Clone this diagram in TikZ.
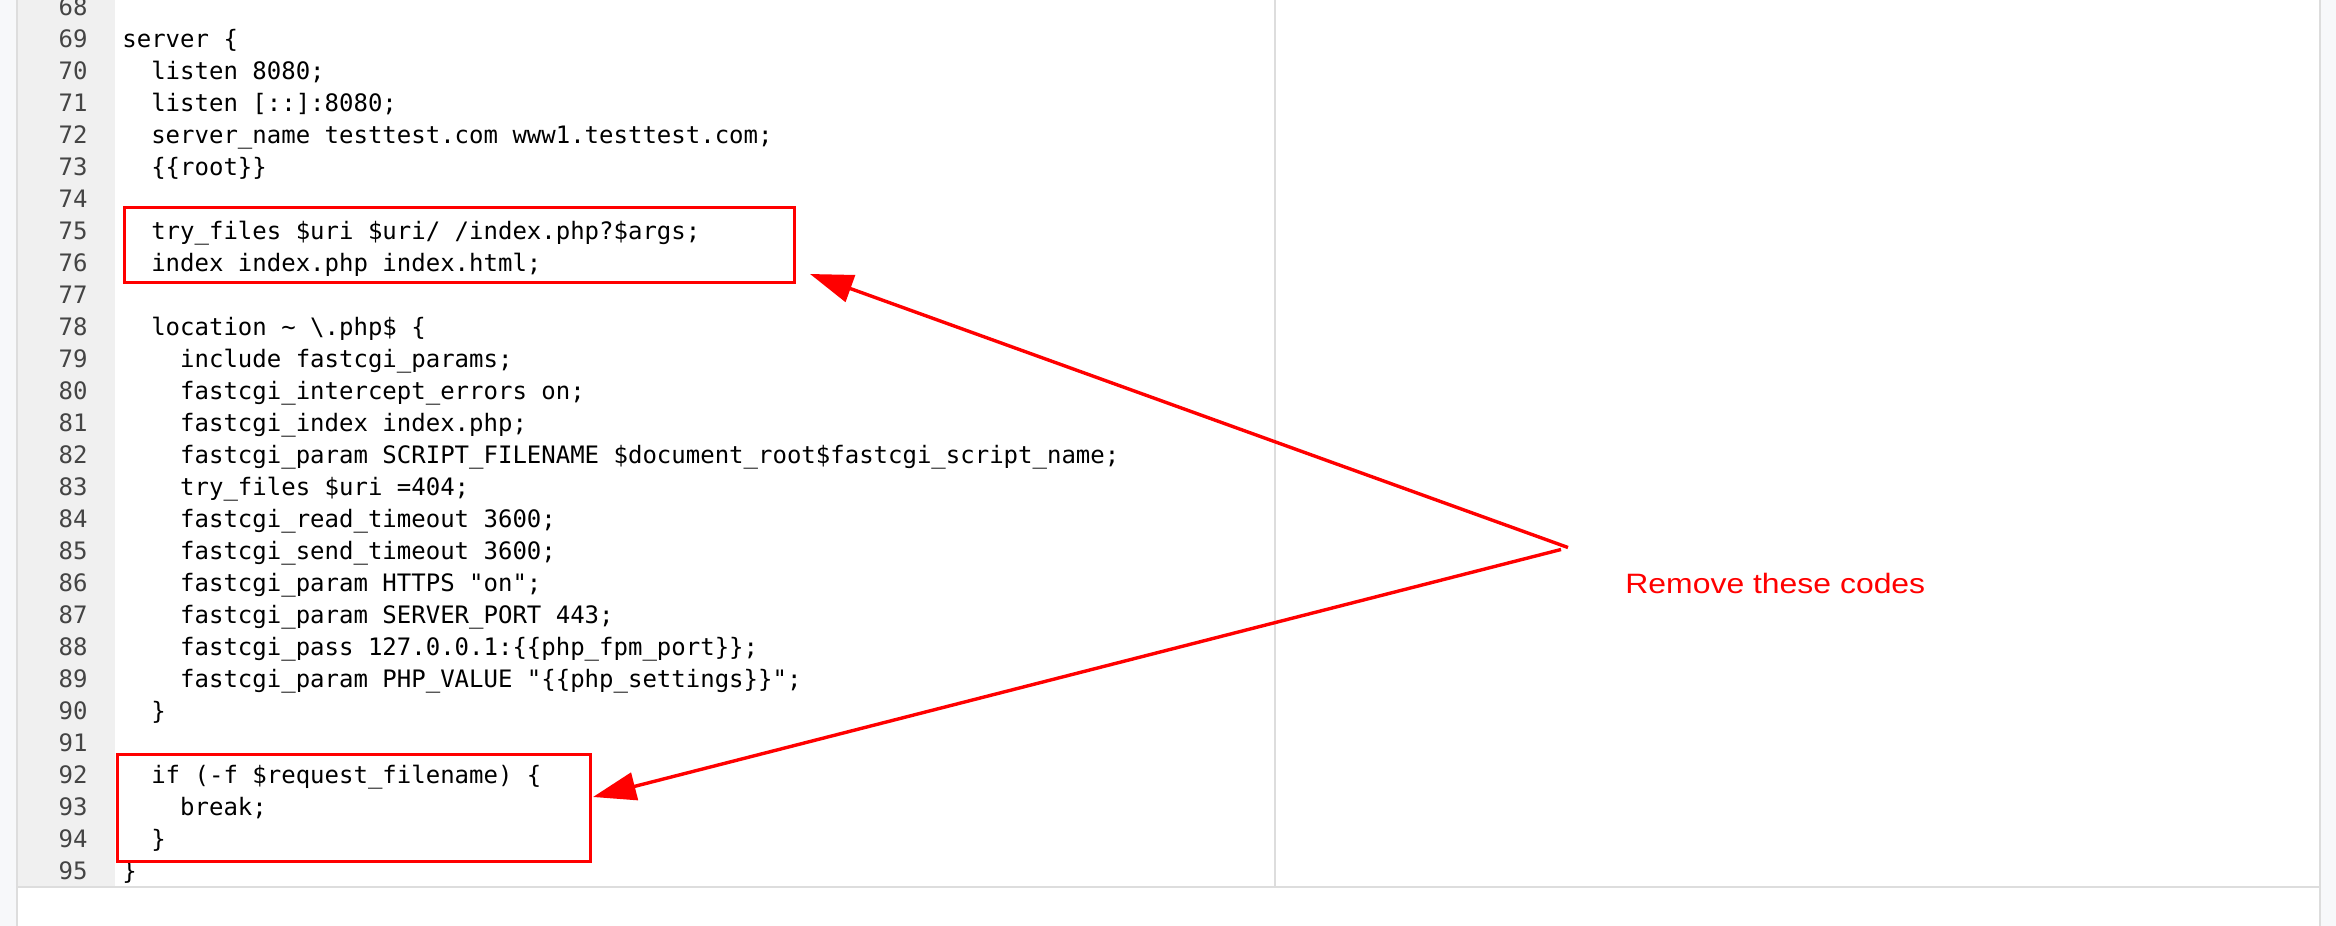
\documentclass[tikz,border=0pt]{standalone}
\usepackage{fontspec}
\setmonofont{DejaVu Sans Mono}
\newfontfamily\labelfont[FakeStretch=1.14]{Liberation Sans}
\usetikzlibrary{arrows.meta}
\definecolor{pagebg}{HTML}{F7F8FA}
\definecolor{gutterbg}{HTML}{F0F0F0}
\definecolor{rulecol}{HTML}{DDDDDD}
\definecolor{numcol}{HTML}{444444}
\definecolor{codecol}{HTML}{000000}
\definecolor{alertred}{HTML}{FF0000}
\tikzset{
  rulestyle/.style={draw=rulecol, line width=1pt},
  lnum/.style={anchor=base east, inner sep=0pt, text=numcol, font=\ttfamily\fontsize{12pt}{16pt}\selectfont},
  codeline/.style={anchor=base west, inner sep=0pt, text=codecol, font=\ttfamily\fontsize{12pt}{16pt}\selectfont},
  redbox/.style={draw=alertred, line width=1.5pt, inner sep=0pt, rectangle},
  redarrow/.style={draw=alertred, line width=1.7pt, -{Triangle[length=21.5pt,width=14pt]}},
  calloutlabel/.style={anchor=base west, inner sep=0pt, text=alertred, font=\labelfont\fontsize{14pt}{17pt}\selectfont}
}
\begin{document}
\begin{tikzpicture}[x=0.5pt,y=-0.5pt]
\useasboundingbox (0,0) rectangle (2336,926);
% page and panel
\fill[pagebg] (0,0) rectangle (2336,926);
\fill[white] (17,0) rectangle (2320,926);
\fill[gutterbg] (17,0) rectangle (115,886);
\draw[rulestyle] (17,0) -- (17,926);
\draw[rulestyle] (2320,0) -- (2320,926);
\draw[rulestyle] (17,887) -- (2320,887);
\draw[rulestyle] (1275,0) -- (1275,887);
% line numbers
\foreach \n in {68,...,95} {
  \node[lnum] (n\n) at (88,{47.7+(\n-69)*32}) {\n};
}
% code lines (x = 122 + indent*14.45)
\node[codeline] (c69) at (122,{47.7+0*32}) {server \{};
\node[codeline] (c70) at (150.9,{47.7+1*32}) {listen 8080;};
\node[codeline] (c71) at (150.9,{47.7+2*32}) {listen [::]:8080;};
\node[codeline] (c72) at (150.9,{47.7+3*32}) {server\_name testtest.com www1.testtest.com;};
\node[codeline] (c73) at (150.9,{47.7+4*32}) {\{\{root\}\}};
\node[codeline] (c75) at (150.9,{47.7+6*32}) {try\_files \$uri \$uri/ /index.php?\$args;};
\node[codeline] (c76) at (150.9,{47.7+7*32}) {index index.php index.html;};
\node[codeline] (c78) at (150.9,{47.7+9*32}) {location \textasciitilde\ \textbackslash.php\$ \{};
\node[codeline] (c79) at (179.8,{47.7+10*32}) {include fastcgi\_params;};
\node[codeline] (c80) at (179.8,{47.7+11*32}) {fastcgi\_intercept\_errors on;};
\node[codeline] (c81) at (179.8,{47.7+12*32}) {fastcgi\_index index.php;};
\node[codeline] (c82) at (179.8,{47.7+13*32}) {fastcgi\_param SCRIPT\_FILENAME \$document\_root\$fastcgi\_script\_name;};
\node[codeline] (c83) at (179.8,{47.7+14*32}) {try\_files \$uri =404;};
\node[codeline] (c84) at (179.8,{47.7+15*32}) {fastcgi\_read\_timeout 3600;};
\node[codeline] (c85) at (179.8,{47.7+16*32}) {fastcgi\_send\_timeout 3600;};
\node[codeline] (c86) at (179.8,{47.7+17*32}) {fastcgi\_param HTTPS "on";};
\node[codeline] (c87) at (179.8,{47.7+18*32}) {fastcgi\_param SERVER\_PORT 443;};
\node[codeline] (c88) at (179.8,{47.7+19*32}) {fastcgi\_pass 127.0.0.1:\{\{php\_fpm\_port\}\};};
\node[codeline] (c89) at (179.8,{47.7+20*32}) {fastcgi\_param PHP\_VALUE "\{\{php\_settings\}\}";};
\node[codeline] (c90) at (150.9,{47.7+21*32}) {\}};
\node[codeline] (c92) at (150.9,{47.7+23*32}) {if (-f \$request\_filename) \{};
\node[codeline] (c93) at (179.8,{47.7+24*32}) {break;};
\node[codeline] (c94) at (150.9,{47.7+25*32}) {\}};
\node[codeline] (c95) at (122,{47.7+26*32}) {\}};
% red boxes
\node[redbox, minimum width=334.75pt, minimum height=37.5pt] (box1) at (459.25,244.5) {};
\node[redbox, minimum width=236.5pt, minimum height=53.65pt] (box2) at (353.5,807.65) {};
% callout
\node[calloutlabel] (lab) at (1625,593.3) {Remove these codes};
\coordinate (v1) at (1568,547.5);
\coordinate (v2) at (1561,549.5);
\coordinate (t1) at (810,274);
\coordinate (t2) at (593,797);
\draw[redarrow] (v1) -- (t1);
\draw[redarrow] (v2) -- (t2);
\end{tikzpicture}
\end{document}
